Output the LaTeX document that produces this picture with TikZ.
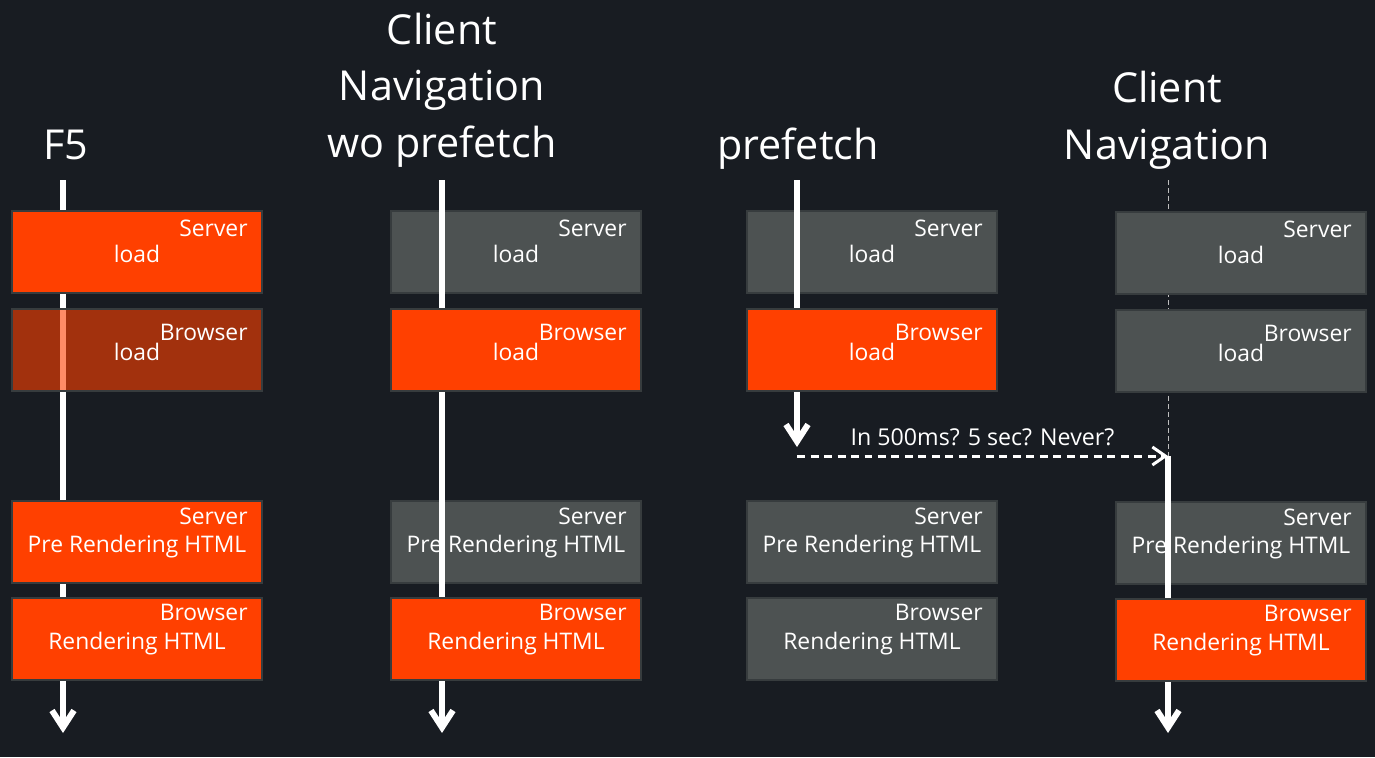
\documentclass[tikz,border=0pt]{standalone}
\usepackage{fontspec}
\setmainfont{Open Sans}
\usepackage{tikz}
\usetikzlibrary{arrows.meta, positioning}

\definecolor{bgnavy}{RGB}{24,28,34}
\definecolor{hotorange}{RGB}{255,64,0}
\definecolor{idlegray}{RGB}{77,82,82}
\definecolor{edgegray}{RGB}{55,60,62}
\definecolor{guidegray}{RGB}{190,190,190}

\begin{document}
\begin{tikzpicture}[x=0.02cm, y=-0.02cm,
        stage/.style={rectangle, draw=edgegray, line width=0.04cm, minimum width=5cm, minimum height=1.64cm, inner sep=0pt, text=white, text height=1.2em, text depth=0pt, font=\fontsize{13}{15}\selectfont},
        hot/.style={stage, fill=hotorange},
        idle/.style={stage, fill=idlegray},
        faded/.style={stage, fill=hotorange, fill opacity=0.6, text opacity=1},
        tag/.style={anchor=east, inner sep=0pt, text=white, font=\fontsize{13}{15}\selectfont},
        title/.style={align=center, anchor=base, inner sep=0pt, text=white, font=\fontsize{23.5}{32}\selectfont},
        rail/.style={white, line width=0.12cm},
        flow/.style={rail, -{Straight Barb[length=0.34cm, width=0.44cm]}},
        hint/.style={white, line width=0.06cm, dash pattern=on 0.16cm off 0.11cm, -{Straight Barb[length=0.26cm, width=0.36cm]}},
        guide/.style={guidegray, line width=0.02cm, dash pattern=on 0.1cm off 0.06cm}]
        \fill[bgnavy] (0,0) rectangle (1375,757);
        \useasboundingbox (0,0) rectangle (1375,757);

        \node[title] (tf5) at (66,159) {F5};
        \node[title] (tnav) at (442,157) {Client\\Navigation\\wo prefetch};
        \node[title] (tpre) at (798,159) {prefetch};
        \node[title] (tcli) at (1167,159) {Client\\Navigation};

        \coordinate (top1) at (63,180);
        \coordinate (end1) at (63,733);
        \coordinate (top2) at (442,180);
        \coordinate (end2) at (442,733);
        \coordinate (top3) at (797,180);
        \coordinate (end3) at (797,447);
        \coordinate (wait3) at (797,456);
        \coordinate (top4) at (1168,180);
        \coordinate (join4) at (1168,456);
        \coordinate (end4) at (1168,733);

        \draw[guide] (top4) -- (join4);

        % grey steps
        \node[idle] (s2) at (516,252) {load};
        \node[idle] (p2) at (516,542) {Pre Rendering HTML};
        \node[idle] (s3) at (872,252) {load};
        \node[idle] (p3) at (872,542) {Pre Rendering HTML};
        \node[idle] (r3) at (872,639) {Rendering HTML};
        \node[idle] (s4) at (1241,253) {load};
        \node[idle] (b4) at (1241,351) {load};
        \node[idle] (p4) at (1241,543) {Pre Rendering HTML};

        \draw[flow] (top1) -- (end1);
        \draw[flow] (top2) -- (end2);
        \draw[flow] (join4) -- (end4);
        \draw[hint] (wait3) -- node[midway, yshift=0.38cm, inner sep=0pt, text=white, font=\fontsize{13.2}{15}\selectfont] (when) {In 500ms? 5 sec? Never?} (join4);

        % orange steps
        \node[hot] (s1) at (137,252) {load};
        \node[faded] (b1) at (137,350) {load};
        \node[hot] (p1) at (137,542) {Pre Rendering HTML};
        \node[hot] (r1) at (137,639) {Rendering HTML};
        \node[hot] (b2) at (516,350) {load};
        \node[hot] (r2) at (516,639) {Rendering HTML};
        \node[hot] (b3) at (872,350) {load};
        \node[hot] (r4) at (1241,640) {Rendering HTML};

        \draw[rail] (top3) -- (top3 |- b3.north);
        \draw[flow] (top3 |- b3.south) -- (end3);

        \node[tag] at ([xshift=-0.3cm, yshift=-0.36cm]s1.north east) {Server};
        \node[tag] at ([xshift=-0.3cm, yshift=-0.48cm]b1.north east) {Browser};
        \node[tag] at ([xshift=-0.3cm, yshift=-0.32cm]p1.north east) {Server};
        \node[tag] at ([xshift=-0.3cm, yshift=-0.30cm]r1.north east) {Browser};
        \node[tag] at ([xshift=-0.3cm, yshift=-0.36cm]s2.north east) {Server};
        \node[tag] at ([xshift=-0.3cm, yshift=-0.48cm]b2.north east) {Browser};
        \node[tag] at ([xshift=-0.3cm, yshift=-0.32cm]p2.north east) {Server};
        \node[tag] at ([xshift=-0.3cm, yshift=-0.30cm]r2.north east) {Browser};
        \node[tag] at ([xshift=-0.3cm, yshift=-0.36cm]s3.north east) {Server};
        \node[tag] at ([xshift=-0.3cm, yshift=-0.48cm]b3.north east) {Browser};
        \node[tag] at ([xshift=-0.3cm, yshift=-0.32cm]p3.north east) {Server};
        \node[tag] at ([xshift=-0.3cm, yshift=-0.30cm]r3.north east) {Browser};
        \node[tag] at ([xshift=-0.3cm, yshift=-0.36cm]s4.north east) {Server};
        \node[tag] at ([xshift=-0.3cm, yshift=-0.48cm]b4.north east) {Browser};
        \node[tag] at ([xshift=-0.3cm, yshift=-0.32cm]p4.north east) {Server};
        \node[tag] at ([xshift=-0.3cm, yshift=-0.30cm]r4.north east) {Browser};
\end{tikzpicture}
\end{document}
